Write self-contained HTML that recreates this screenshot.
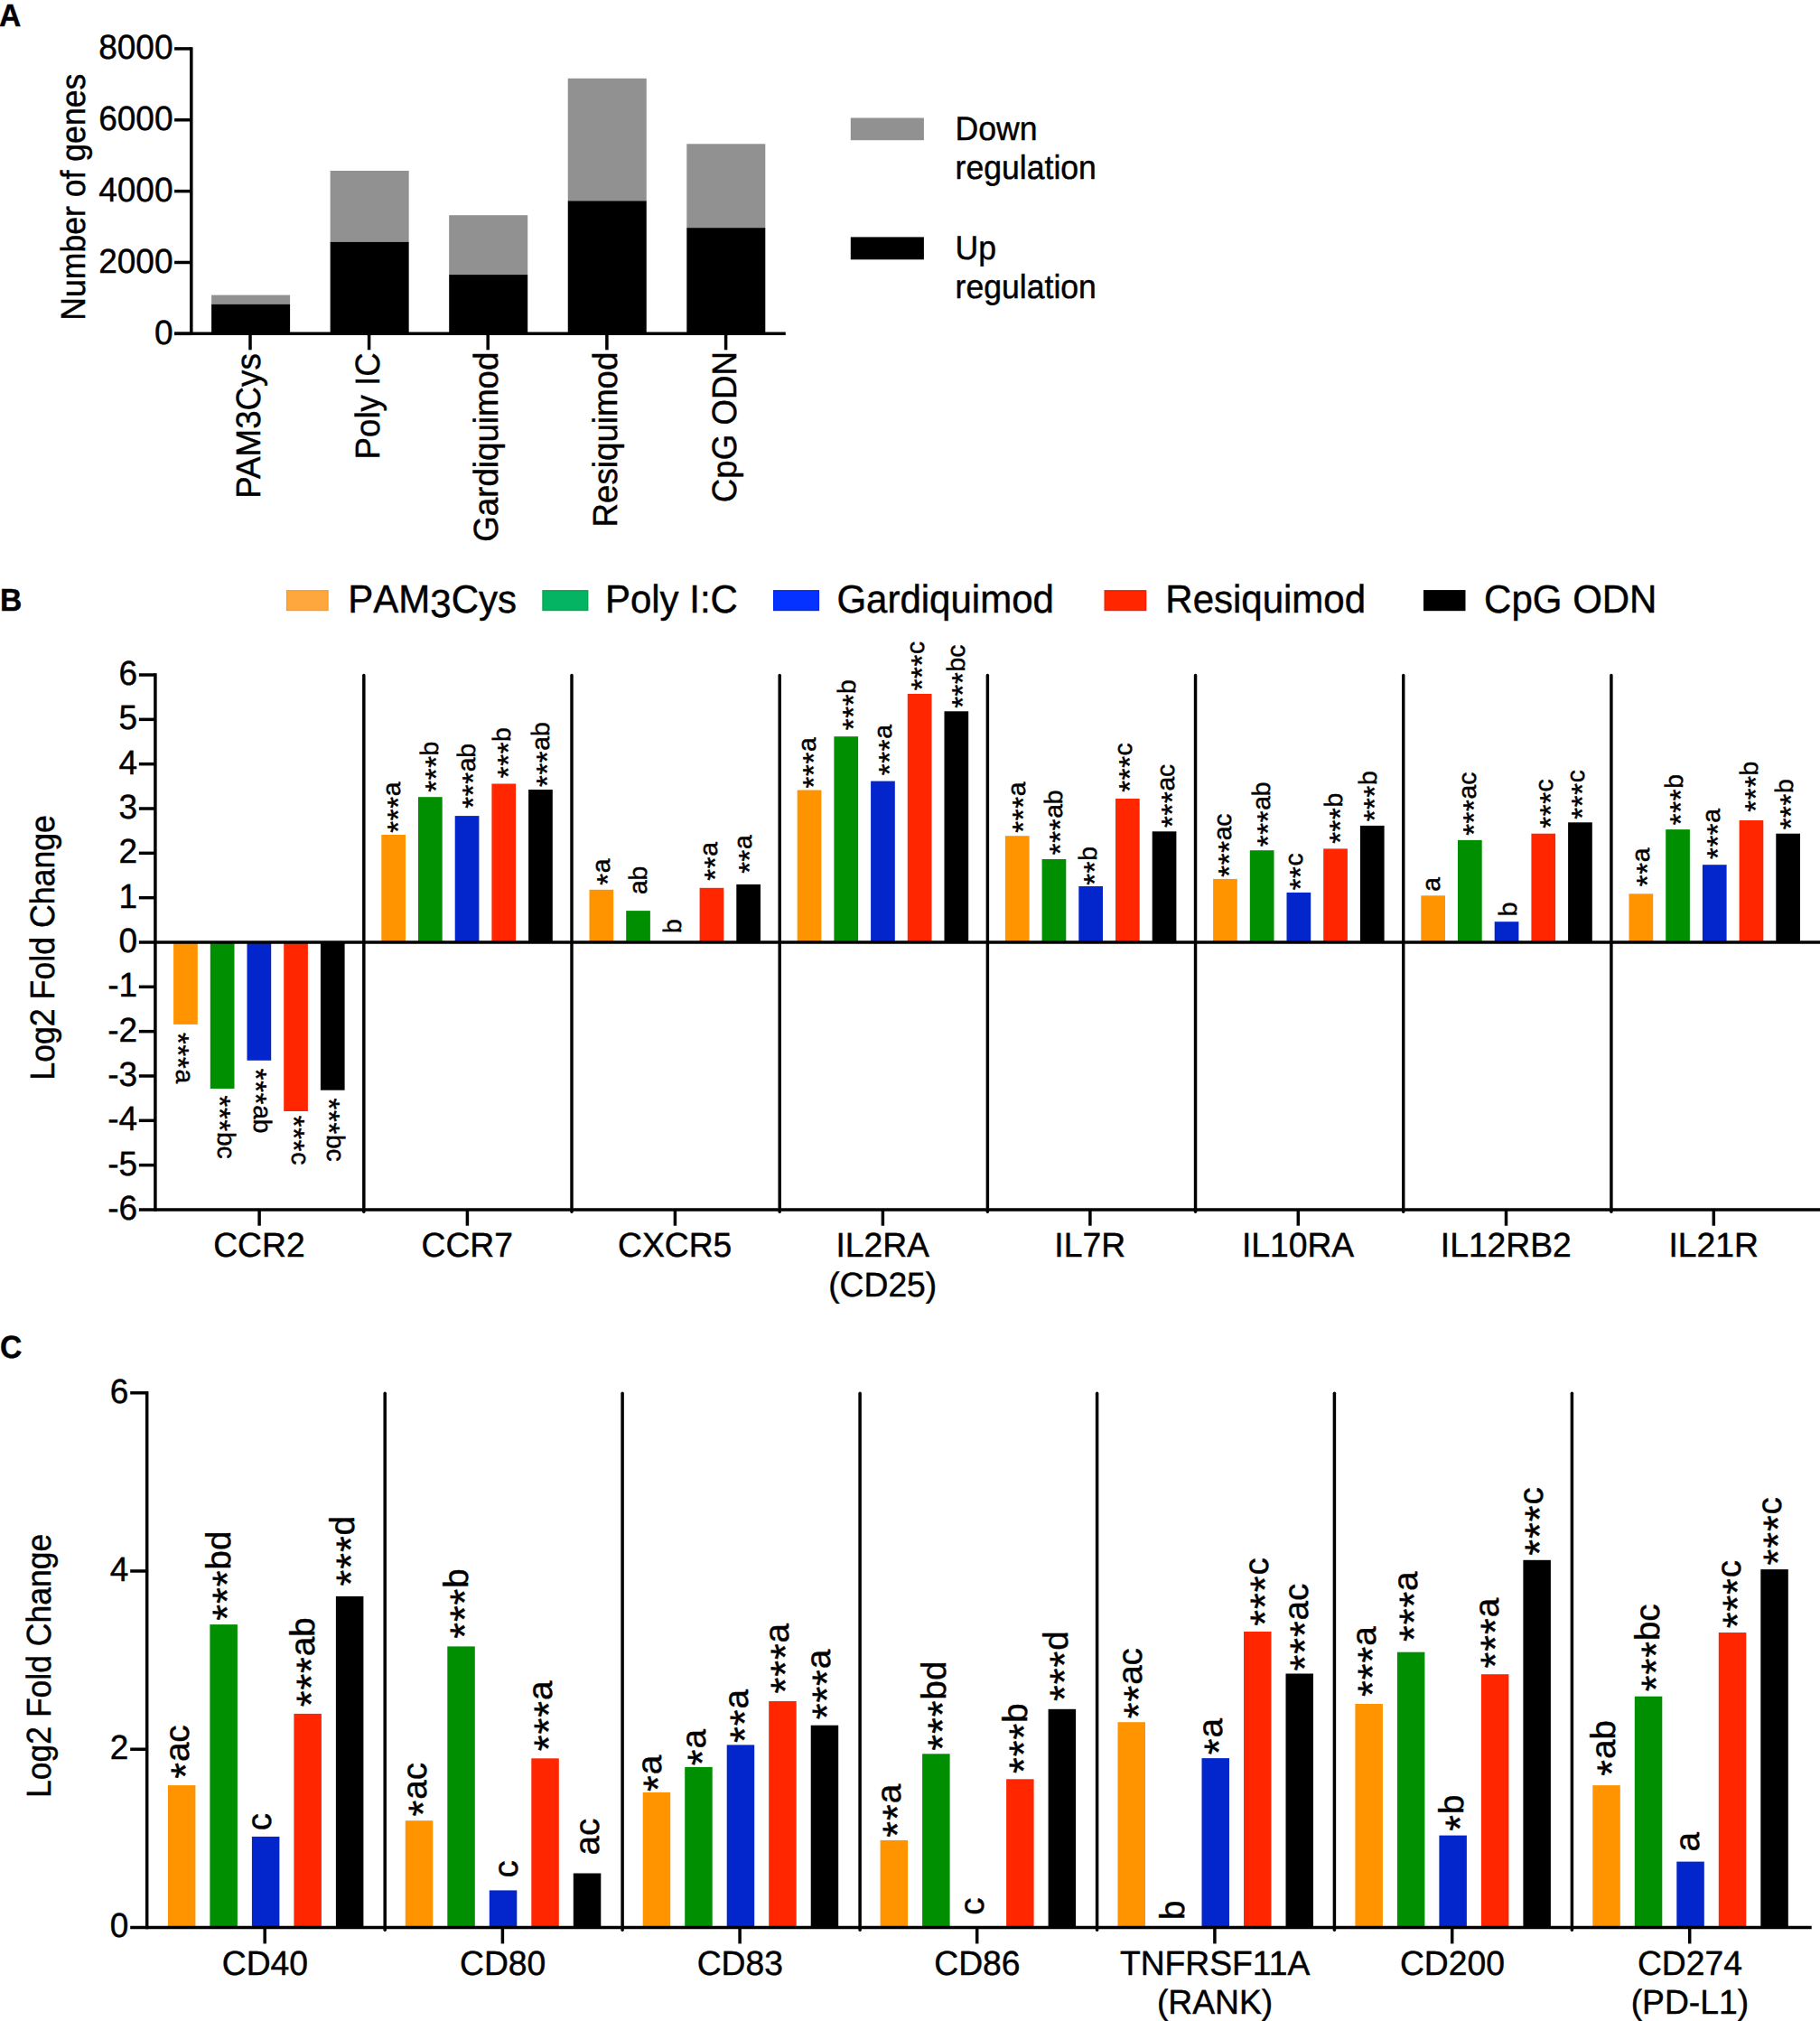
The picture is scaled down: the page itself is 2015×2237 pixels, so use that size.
<!DOCTYPE html>
<html lang="en">
<head>
<meta charset="utf-8">
<title>Figure: TLR agonist gene regulation</title>
<style>
html,body{margin:0;padding:0;background:#fff;}
body{width:2015px;height:2237px;overflow:hidden;}
svg{display:block;}
text{font-family:"Liberation Sans",Arial,Helvetica,sans-serif;fill:#000;stroke:#000;stroke-width:0.45px;}
</style>
</head>
<body>
<svg width="2015" height="2237" viewBox="0 0 2015 2237" text-rendering="geometricPrecision">
<rect x="0" y="0" width="2015" height="2237" fill="#fff"/>
<text transform="translate(-1 28.7) scale(0.9600 1)" font-size="35" font-weight="700">A</text>
<text transform="translate(0.1 675.9) scale(0.9600 1)" font-size="35" font-weight="700">B</text>
<text transform="translate(0 1503.2) scale(0.9600 1)" font-size="35" font-weight="700">C</text>
<rect x="234.1" y="326.6" width="87" height="10.8" fill="#919191"/>
<rect x="234.1" y="336.9" width="87" height="32.45" fill="#000000"/>
<rect x="365.65" y="189" width="87" height="79.4" fill="#919191"/>
<rect x="365.65" y="267.9" width="87" height="101.45" fill="#000000"/>
<rect x="497.2" y="238.2" width="87" height="66.4" fill="#919191"/>
<rect x="497.2" y="304.1" width="87" height="65.25" fill="#000000"/>
<rect x="628.75" y="86.8" width="87" height="136.2" fill="#919191"/>
<rect x="628.75" y="222.5" width="87" height="146.85" fill="#000000"/>
<rect x="760.3" y="159.3" width="87" height="93.4" fill="#919191"/>
<rect x="760.3" y="252.2" width="87" height="117.15" fill="#000000"/>
<line x1="211.8" y1="52.15" x2="211.8" y2="371.1" stroke="#000" stroke-width="3.5"/>
<line x1="193.1" y1="369.35" x2="869.8" y2="369.35" stroke="#000" stroke-width="3.5"/>
<line x1="193.1" y1="369.35" x2="211.8" y2="369.35" stroke="#000" stroke-width="3.5"/>
<text transform="translate(191.5 380.5) scale(0.9740 1)" font-size="38" text-anchor="end">0</text>
<line x1="193.1" y1="290.49" x2="211.8" y2="290.49" stroke="#000" stroke-width="3.5"/>
<text transform="translate(191.5 301.64) scale(0.9740 1)" font-size="38" text-anchor="end">2000</text>
<line x1="193.1" y1="211.63" x2="211.8" y2="211.63" stroke="#000" stroke-width="3.5"/>
<text transform="translate(191.5 222.78) scale(0.9740 1)" font-size="38" text-anchor="end">4000</text>
<line x1="193.1" y1="132.77" x2="211.8" y2="132.77" stroke="#000" stroke-width="3.5"/>
<text transform="translate(191.5 143.92) scale(0.9740 1)" font-size="38" text-anchor="end">6000</text>
<line x1="193.1" y1="53.91" x2="211.8" y2="53.91" stroke="#000" stroke-width="3.5"/>
<text transform="translate(191.5 65.06) scale(0.9740 1)" font-size="38" text-anchor="end">8000</text>
<line x1="277" y1="369.35" x2="277" y2="387.3" stroke="#000" stroke-width="3.5"/>
<text transform="translate(288.1 391.2) rotate(-90) scale(0.9660 1)" font-size="38" text-anchor="end">PAM3Cys</text>
<line x1="408.6" y1="369.35" x2="408.6" y2="387.3" stroke="#000" stroke-width="3.5"/>
<text transform="translate(419.7 390.2) rotate(-90) scale(0.9660 1)" font-size="38" text-anchor="end">Poly IC</text>
<line x1="540.2" y1="369.35" x2="540.2" y2="387.3" stroke="#000" stroke-width="3.5"/>
<text transform="translate(551.3 389.6) rotate(-90) scale(0.9660 1)" font-size="38" text-anchor="end">Gardiquimod</text>
<line x1="671.9" y1="369.35" x2="671.9" y2="387.3" stroke="#000" stroke-width="3.5"/>
<text transform="translate(683 389.6) rotate(-90) scale(0.9660 1)" font-size="38" text-anchor="end">Resiquimod</text>
<line x1="803.6" y1="369.35" x2="803.6" y2="387.3" stroke="#000" stroke-width="3.5"/>
<text transform="translate(814.7 389) rotate(-90) scale(0.9660 1)" font-size="38" text-anchor="end">CpG ODN</text>
<text transform="translate(94 354.8) rotate(-90) scale(0.9370 1)" font-size="38">Number of genes</text>
<rect x="941.8" y="130.5" width="81.1" height="24.7" fill="#919191"/>
<rect x="941.8" y="262.4" width="81.1" height="24.9" fill="#000000"/>
<text transform="translate(1057.6 154.7) scale(0.9570 1)" font-size="37.2">Down</text>
<text transform="translate(1057.6 198.2) scale(0.9570 1)" font-size="37.2">regulation</text>
<text transform="translate(1057.6 286.6) scale(0.9570 1)" font-size="37.2">Up</text>
<text transform="translate(1057.6 329.9) scale(0.9570 1)" font-size="37.2">regulation</text>
<rect x="317.6" y="653.8" width="45.4" height="21.7" fill="#FFA73F" stroke="#FF9A1F" stroke-width="1.4"/>
<rect x="601" y="653.8" width="49.7" height="21.7" fill="#04B463" stroke="#00A850" stroke-width="1.4"/>
<rect x="856.7" y="653.8" width="49.7" height="21.7" fill="#0532FF" stroke="#0428F0" stroke-width="1.4"/>
<rect x="1223.2" y="653.8" width="45.4" height="21.7" fill="#FF2600" stroke="#F52000" stroke-width="1.4"/>
<rect x="1576.7" y="653.8" width="45.1" height="21.7" fill="#000000" stroke="#000000" stroke-width="1.4"/>
<text transform="translate(385.3 678.3) scale(0.9655 1)" font-size="43.5" style="font-kerning:none">PAM<tspan dy="5.1">3</tspan><tspan dy="-5.1">Cys</tspan></text>
<text transform="translate(669.9 678.3) scale(0.9655 1)" font-size="43.5">Poly I:C</text>
<text transform="translate(926.4 678.3) scale(0.9655 1)" font-size="43.5">Gardiquimod</text>
<text transform="translate(1290.3 678.3) scale(0.9655 1)" font-size="43.5">Resiquimod</text>
<text transform="translate(1643.1 678.3) scale(0.9655 1)" font-size="43.5">CpG ODN</text>
<rect x="192.1" y="1043" width="26.7" height="90.9" fill="#FF9300"/>
<rect x="232.8" y="1043" width="26.7" height="162" fill="#008F00"/>
<rect x="273.5" y="1043" width="26.7" height="130.8" fill="#0325CC"/>
<rect x="314.2" y="1043" width="26.7" height="187" fill="#FF2600"/>
<rect x="354.9" y="1043" width="26.7" height="163.7" fill="#000000"/>
<rect x="422.3" y="924" width="26.7" height="119" fill="#FF9300"/>
<rect x="463" y="882.2" width="26.7" height="160.8" fill="#008F00"/>
<rect x="503.7" y="903.1" width="26.7" height="139.9" fill="#0325CC"/>
<rect x="544.4" y="867.5" width="26.7" height="175.5" fill="#FF2600"/>
<rect x="585.1" y="874" width="26.7" height="169" fill="#000000"/>
<rect x="652.5" y="984.8" width="26.7" height="58.2" fill="#FF9300"/>
<rect x="693.2" y="1008.1" width="26.7" height="34.9" fill="#008F00"/>
<rect x="774.6" y="982.8" width="26.7" height="60.2" fill="#FF2600"/>
<rect x="815.3" y="978.9" width="26.7" height="64.1" fill="#000000"/>
<rect x="882.7" y="874.5" width="26.7" height="168.5" fill="#FF9300"/>
<rect x="923.4" y="815.2" width="26.7" height="227.8" fill="#008F00"/>
<rect x="964.1" y="864.6" width="26.7" height="178.4" fill="#0325CC"/>
<rect x="1004.8" y="768" width="26.7" height="275" fill="#FF2600"/>
<rect x="1045.5" y="787.3" width="26.7" height="255.7" fill="#000000"/>
<rect x="1112.9" y="925.2" width="26.7" height="117.8" fill="#FF9300"/>
<rect x="1153.6" y="951" width="26.7" height="92" fill="#008F00"/>
<rect x="1194.3" y="981" width="26.7" height="62" fill="#0325CC"/>
<rect x="1235" y="884" width="26.7" height="159" fill="#FF2600"/>
<rect x="1275.7" y="920.3" width="26.7" height="122.7" fill="#000000"/>
<rect x="1343.1" y="972.9" width="26.7" height="70.1" fill="#FF9300"/>
<rect x="1383.8" y="941.2" width="26.7" height="101.8" fill="#008F00"/>
<rect x="1424.5" y="987.9" width="26.7" height="55.1" fill="#0325CC"/>
<rect x="1465.2" y="939.4" width="26.7" height="103.6" fill="#FF2600"/>
<rect x="1505.9" y="913.9" width="26.7" height="129.1" fill="#000000"/>
<rect x="1573.3" y="991.3" width="26.7" height="51.7" fill="#FF9300"/>
<rect x="1614" y="929.9" width="26.7" height="113.1" fill="#008F00"/>
<rect x="1654.7" y="1020.2" width="26.7" height="22.8" fill="#0325CC"/>
<rect x="1695.4" y="922.7" width="26.7" height="120.3" fill="#FF2600"/>
<rect x="1736.1" y="910.3" width="26.7" height="132.7" fill="#000000"/>
<rect x="1803.5" y="989.3" width="26.7" height="53.7" fill="#FF9300"/>
<rect x="1844.2" y="918.1" width="26.7" height="124.9" fill="#008F00"/>
<rect x="1884.9" y="957.2" width="26.7" height="85.8" fill="#0325CC"/>
<rect x="1925.6" y="908" width="26.7" height="135" fill="#FF2600"/>
<rect x="1966.3" y="922.7" width="26.7" height="120.3" fill="#000000"/>
<line x1="171.9" y1="745.15" x2="171.9" y2="1340.65" stroke="#000" stroke-width="3.5"/>
<text transform="translate(152.1 1349.83) scale(0.9740 1)" font-size="38" text-anchor="end">-6</text>
<line x1="153.85" y1="1289.65" x2="171.9" y2="1289.65" stroke="#000" stroke-width="3.5"/>
<text transform="translate(152.1 1300.5) scale(0.9740 1)" font-size="38" text-anchor="end">-5</text>
<line x1="153.85" y1="1240.32" x2="171.9" y2="1240.32" stroke="#000" stroke-width="3.5"/>
<text transform="translate(152.1 1251.17) scale(0.9740 1)" font-size="38" text-anchor="end">-4</text>
<line x1="153.85" y1="1190.99" x2="171.9" y2="1190.99" stroke="#000" stroke-width="3.5"/>
<text transform="translate(152.1 1201.84) scale(0.9740 1)" font-size="38" text-anchor="end">-3</text>
<line x1="153.85" y1="1141.66" x2="171.9" y2="1141.66" stroke="#000" stroke-width="3.5"/>
<text transform="translate(152.1 1152.51) scale(0.9740 1)" font-size="38" text-anchor="end">-2</text>
<line x1="153.85" y1="1092.33" x2="171.9" y2="1092.33" stroke="#000" stroke-width="3.5"/>
<text transform="translate(152.1 1103.18) scale(0.9740 1)" font-size="38" text-anchor="end">-1</text>
<text transform="translate(152.1 1053.85) scale(0.9740 1)" font-size="38" text-anchor="end">0</text>
<line x1="153.85" y1="993.67" x2="171.9" y2="993.67" stroke="#000" stroke-width="3.5"/>
<text transform="translate(152.1 1004.52) scale(0.9740 1)" font-size="38" text-anchor="end">1</text>
<line x1="153.85" y1="944.34" x2="171.9" y2="944.34" stroke="#000" stroke-width="3.5"/>
<text transform="translate(152.1 955.19) scale(0.9740 1)" font-size="38" text-anchor="end">2</text>
<line x1="153.85" y1="895.01" x2="171.9" y2="895.01" stroke="#000" stroke-width="3.5"/>
<text transform="translate(152.1 905.86) scale(0.9740 1)" font-size="38" text-anchor="end">3</text>
<line x1="153.85" y1="845.68" x2="171.9" y2="845.68" stroke="#000" stroke-width="3.5"/>
<text transform="translate(152.1 856.53) scale(0.9740 1)" font-size="38" text-anchor="end">4</text>
<line x1="153.85" y1="796.35" x2="171.9" y2="796.35" stroke="#000" stroke-width="3.5"/>
<text transform="translate(152.1 807.2) scale(0.9740 1)" font-size="38" text-anchor="end">5</text>
<line x1="153.85" y1="747.02" x2="171.9" y2="747.02" stroke="#000" stroke-width="3.5"/>
<text transform="translate(152.1 757.87) scale(0.9740 1)" font-size="38" text-anchor="end">6</text>
<line x1="153.85" y1="1043" x2="2015" y2="1043" stroke="#000" stroke-width="3.5"/>
<line x1="153.85" y1="1338.9" x2="2015" y2="1338.9" stroke="#000" stroke-width="3.5"/>
<line x1="402.83" y1="747.4" x2="402.83" y2="1341.2" stroke="#000" stroke-width="3.45" stroke-linecap="round"/>
<line x1="633.01" y1="747.4" x2="633.01" y2="1341.2" stroke="#000" stroke-width="3.45" stroke-linecap="round"/>
<line x1="863.19" y1="747.4" x2="863.19" y2="1341.2" stroke="#000" stroke-width="3.45" stroke-linecap="round"/>
<line x1="1093.37" y1="747.4" x2="1093.37" y2="1341.2" stroke="#000" stroke-width="3.45" stroke-linecap="round"/>
<line x1="1323.55" y1="747.4" x2="1323.55" y2="1341.2" stroke="#000" stroke-width="3.45" stroke-linecap="round"/>
<line x1="1553.73" y1="747.4" x2="1553.73" y2="1341.2" stroke="#000" stroke-width="3.45" stroke-linecap="round"/>
<line x1="1783.91" y1="747.4" x2="1783.91" y2="1341.2" stroke="#000" stroke-width="3.45" stroke-linecap="round"/>
<line x1="287.1" y1="1338.9" x2="287.1" y2="1356.7" stroke="#000" stroke-width="3.5"/>
<text transform="translate(286.9 1391.4) scale(0.9800 1)" font-size="38" text-anchor="middle">CCR2</text>
<line x1="517.4" y1="1338.9" x2="517.4" y2="1356.7" stroke="#000" stroke-width="3.5"/>
<text transform="translate(517.2 1391.4) scale(0.9800 1)" font-size="38" text-anchor="middle">CCR7</text>
<line x1="747.4" y1="1338.9" x2="747.4" y2="1356.7" stroke="#000" stroke-width="3.5"/>
<text transform="translate(747.2 1391.4) scale(0.9800 1)" font-size="38" text-anchor="middle">CXCR5</text>
<line x1="977.4" y1="1338.9" x2="977.4" y2="1356.7" stroke="#000" stroke-width="3.5"/>
<text transform="translate(977.2 1391.4) scale(0.9800 1)" font-size="38" text-anchor="middle">IL2RA</text>
<text transform="translate(977.2 1434.6) scale(0.9800 1)" font-size="38" text-anchor="middle">(CD25)</text>
<line x1="1206.9" y1="1338.9" x2="1206.9" y2="1356.7" stroke="#000" stroke-width="3.5"/>
<text transform="translate(1206.7 1391.4) scale(0.9800 1)" font-size="38" text-anchor="middle">IL7R</text>
<line x1="1437.3" y1="1338.9" x2="1437.3" y2="1356.7" stroke="#000" stroke-width="3.5"/>
<text transform="translate(1437.1 1391.4) scale(0.9800 1)" font-size="38" text-anchor="middle">IL10RA</text>
<line x1="1667.5" y1="1338.9" x2="1667.5" y2="1356.7" stroke="#000" stroke-width="3.5"/>
<text transform="translate(1667.3 1391.4) scale(0.9800 1)" font-size="38" text-anchor="middle">IL12RB2</text>
<line x1="1897.3" y1="1338.9" x2="1897.3" y2="1356.7" stroke="#000" stroke-width="3.5"/>
<text transform="translate(1897.1 1391.4) scale(0.9800 1)" font-size="38" text-anchor="middle">IL21R</text>
<text transform="translate(59.7 1195.7) rotate(-90) scale(0.9390 1)" font-size="38">Log2 Fold Change</text>
<text transform="translate(195.1 1143.07) rotate(90)" font-size="28.2"><tspan font-size="33" dy="9" letter-spacing="0.6">***</tspan><tspan dy="-9">a</tspan></text>
<text transform="translate(241.4 1212.57) rotate(90)" font-size="28.2"><tspan font-size="33" dy="9" letter-spacing="0.6">***</tspan><tspan dy="-9">bc</tspan></text>
<text transform="translate(281.4 1182.87) rotate(90)" font-size="28.2"><tspan font-size="33" dy="9" letter-spacing="0.6">***</tspan><tspan dy="-9">ab</tspan></text>
<text transform="translate(322.6 1234.87) rotate(90)" font-size="28.2"><tspan font-size="33" dy="9" letter-spacing="0.6">***</tspan><tspan dy="-9">c</tspan></text>
<text transform="translate(361.9 1215.57) rotate(90)" font-size="28.2"><tspan font-size="33" dy="9" letter-spacing="0.6">***</tspan><tspan dy="-9">bc</tspan></text>
<text transform="translate(443.3 921.63) rotate(-90)" font-size="28.2"><tspan font-size="33" dy="9" letter-spacing="0.6">***</tspan><tspan dy="-9">a</tspan></text>
<text transform="translate(485.2 876.73) rotate(-90)" font-size="28.2"><tspan font-size="33" dy="9" letter-spacing="0.6">***</tspan><tspan dy="-9">b</tspan></text>
<text transform="translate(525.6 894.63) rotate(-90)" font-size="28.2"><tspan font-size="33" dy="9" letter-spacing="0.6">***</tspan><tspan dy="-9">ab</tspan></text>
<text transform="translate(564.8 861.23) rotate(-90)" font-size="28.2"><tspan font-size="33" dy="9" letter-spacing="0.6">***</tspan><tspan dy="-9">b</tspan></text>
<text transform="translate(607.5 871.03) rotate(-90)" font-size="28.2"><tspan font-size="33" dy="9" letter-spacing="0.6">***</tspan><tspan dy="-9">ab</tspan></text>
<text transform="translate(674.7 979.63) rotate(-90)" font-size="28.2"><tspan font-size="33" dy="9" letter-spacing="0.6">*</tspan><tspan dy="-9">a</tspan></text>
<text transform="translate(716 990.08) rotate(-90)" font-size="28.2">ab</text>
<text transform="translate(753.6 1033.1) rotate(-90)" font-size="28.2">b</text>
<text transform="translate(794.4 974.73) rotate(-90)" font-size="28.2"><tspan font-size="33" dy="9" letter-spacing="0.6">**</tspan><tspan dy="-9">a</tspan></text>
<text transform="translate(832.3 966.83) rotate(-90)" font-size="28.2"><tspan font-size="33" dy="9" letter-spacing="0.6">**</tspan><tspan dy="-9">a</tspan></text>
<text transform="translate(903.4 872.43) rotate(-90)" font-size="28.2"><tspan font-size="33" dy="9" letter-spacing="0.6">***</tspan><tspan dy="-9">a</tspan></text>
<text transform="translate(947.1 808.23) rotate(-90)" font-size="28.2"><tspan font-size="33" dy="9" letter-spacing="0.6">***</tspan><tspan dy="-9">b</tspan></text>
<text transform="translate(987.1 858.13) rotate(-90)" font-size="28.2"><tspan font-size="33" dy="9" letter-spacing="0.6">***</tspan><tspan dy="-9">a</tspan></text>
<text transform="translate(1023.1 764.33) rotate(-90)" font-size="28.2"><tspan font-size="33" dy="9" letter-spacing="0.6">***</tspan><tspan dy="-9">c</tspan></text>
<text transform="translate(1068.2 783.83) rotate(-90)" font-size="28.2"><tspan font-size="33" dy="9" letter-spacing="0.6">***</tspan><tspan dy="-9">bc</tspan></text>
<text transform="translate(1135 921.63) rotate(-90)" font-size="28.2"><tspan font-size="33" dy="9" letter-spacing="0.6">***</tspan><tspan dy="-9">a</tspan></text>
<text transform="translate(1176.4 946.13) rotate(-90)" font-size="28.2"><tspan font-size="33" dy="9" letter-spacing="0.6">***</tspan><tspan dy="-9">ab</tspan></text>
<text transform="translate(1213.9 979.63) rotate(-90)" font-size="28.2"><tspan font-size="33" dy="9" letter-spacing="0.6">**</tspan><tspan dy="-9">b</tspan></text>
<text transform="translate(1253.1 876.73) rotate(-90)" font-size="28.2"><tspan font-size="33" dy="9" letter-spacing="0.6">***</tspan><tspan dy="-9">c</tspan></text>
<text transform="translate(1299.7 915.93) rotate(-90)" font-size="28.2"><tspan font-size="33" dy="9" letter-spacing="0.6">***</tspan><tspan dy="-9">ac</tspan></text>
<text transform="translate(1363.1 970.63) rotate(-90)" font-size="28.2"><tspan font-size="33" dy="9" letter-spacing="0.6">***</tspan><tspan dy="-9">ac</tspan></text>
<text transform="translate(1406.4 937.13) rotate(-90)" font-size="28.2"><tspan font-size="33" dy="9" letter-spacing="0.6">***</tspan><tspan dy="-9">ab</tspan></text>
<text transform="translate(1442 985.33) rotate(-90)" font-size="28.2"><tspan font-size="33" dy="9" letter-spacing="0.6">**</tspan><tspan dy="-9">c</tspan></text>
<text transform="translate(1485.6 933.83) rotate(-90)" font-size="28.2"><tspan font-size="33" dy="9" letter-spacing="0.6">***</tspan><tspan dy="-9">b</tspan></text>
<text transform="translate(1523.9 909.33) rotate(-90)" font-size="28.2"><tspan font-size="33" dy="9" letter-spacing="0.6">***</tspan><tspan dy="-9">b</tspan></text>
<text transform="translate(1593.9 986.78) rotate(-90)" font-size="28.2">a</text>
<text transform="translate(1633.9 924.83) rotate(-90)" font-size="28.2"><tspan font-size="33" dy="9" letter-spacing="0.6">***</tspan><tspan dy="-9">ac</tspan></text>
<text transform="translate(1678.8 1014.3) rotate(-90)" font-size="28.2">b</text>
<text transform="translate(1718.8 916.73) rotate(-90)" font-size="28.2"><tspan font-size="33" dy="9" letter-spacing="0.6">***</tspan><tspan dy="-9">c</tspan></text>
<text transform="translate(1753.6 906.63) rotate(-90)" font-size="28.2"><tspan font-size="33" dy="9" letter-spacing="0.6">***</tspan><tspan dy="-9">c</tspan></text>
<text transform="translate(1825.6 981.23) rotate(-90)" font-size="28.2"><tspan font-size="33" dy="9" letter-spacing="0.6">**</tspan><tspan dy="-9">a</tspan></text>
<text transform="translate(1862.8 913.13) rotate(-90)" font-size="28.2"><tspan font-size="33" dy="9" letter-spacing="0.6">***</tspan><tspan dy="-9">b</tspan></text>
<text transform="translate(1903.9 951.03) rotate(-90)" font-size="28.2"><tspan font-size="33" dy="9" letter-spacing="0.6">***</tspan><tspan dy="-9">a</tspan></text>
<text transform="translate(1946.4 898.73) rotate(-90)" font-size="28.2"><tspan font-size="33" dy="9" letter-spacing="0.6">***</tspan><tspan dy="-9">b</tspan></text>
<text transform="translate(1984.5 918.33) rotate(-90)" font-size="28.2"><tspan font-size="33" dy="9" letter-spacing="0.6">***</tspan><tspan dy="-9">b</tspan></text>
<rect x="185.9" y="1976.1" width="30.5" height="157.35" fill="#FF9300"/>
<rect x="232.4" y="1798.1" width="30.5" height="335.35" fill="#008F00"/>
<rect x="278.9" y="2032.9" width="30.5" height="100.55" fill="#0325CC"/>
<rect x="325.4" y="1896.9" width="30.5" height="236.55" fill="#FF2600"/>
<rect x="371.9" y="1766.9" width="30.5" height="366.55" fill="#000000"/>
<rect x="448.8" y="2015.2" width="30.5" height="118.25" fill="#FF9300"/>
<rect x="495.3" y="1822.4" width="30.5" height="311.05" fill="#008F00"/>
<rect x="541.8" y="2092.4" width="30.5" height="41.05" fill="#0325CC"/>
<rect x="588.3" y="1946.3" width="30.5" height="187.15" fill="#FF2600"/>
<rect x="634.8" y="2073.5" width="30.5" height="59.95" fill="#000000"/>
<rect x="711.7" y="1983.9" width="30.5" height="149.55" fill="#FF9300"/>
<rect x="758.2" y="1955.9" width="30.5" height="177.55" fill="#008F00"/>
<rect x="804.7" y="1931.4" width="30.5" height="202.05" fill="#0325CC"/>
<rect x="851.2" y="1883" width="30.5" height="250.45" fill="#FF2600"/>
<rect x="897.7" y="1909.7" width="30.5" height="223.75" fill="#000000"/>
<rect x="974.6" y="2036.9" width="30.5" height="96.55" fill="#FF9300"/>
<rect x="1021.1" y="1941.3" width="30.5" height="192.15" fill="#008F00"/>
<rect x="1114.1" y="1969.3" width="30.5" height="164.15" fill="#FF2600"/>
<rect x="1160.6" y="1891.8" width="30.5" height="241.65" fill="#000000"/>
<rect x="1237.5" y="1906.2" width="30.5" height="227.25" fill="#FF9300"/>
<rect x="1330.5" y="1946.1" width="30.5" height="187.35" fill="#0325CC"/>
<rect x="1377" y="1806" width="30.5" height="327.45" fill="#FF2600"/>
<rect x="1423.5" y="1852.5" width="30.5" height="280.95" fill="#000000"/>
<rect x="1500.4" y="1886" width="30.5" height="247.45" fill="#FF9300"/>
<rect x="1546.9" y="1828.7" width="30.5" height="304.75" fill="#008F00"/>
<rect x="1593.4" y="2031.6" width="30.5" height="101.85" fill="#0325CC"/>
<rect x="1639.9" y="1853.2" width="30.5" height="280.25" fill="#FF2600"/>
<rect x="1686.4" y="1726.8" width="30.5" height="406.65" fill="#000000"/>
<rect x="1763.3" y="1976.1" width="30.5" height="157.35" fill="#FF9300"/>
<rect x="1809.8" y="1877.7" width="30.5" height="255.75" fill="#008F00"/>
<rect x="1856.3" y="2060.6" width="30.5" height="72.85" fill="#0325CC"/>
<rect x="1902.8" y="1807" width="30.5" height="326.45" fill="#FF2600"/>
<rect x="1949.3" y="1737.1" width="30.5" height="396.35" fill="#000000"/>
<line x1="162.7" y1="1540" x2="162.7" y2="2135.2" stroke="#000" stroke-width="3.5"/>
<text transform="translate(142.3 2144.45) scale(0.9740 1)" font-size="38" text-anchor="end">0</text>
<line x1="144.2" y1="1936.21" x2="162.7" y2="1936.21" stroke="#000" stroke-width="3.5"/>
<text transform="translate(142.3 1947.21) scale(0.9740 1)" font-size="38" text-anchor="end">2</text>
<line x1="144.2" y1="1738.97" x2="162.7" y2="1738.97" stroke="#000" stroke-width="3.5"/>
<text transform="translate(142.3 1749.97) scale(0.9740 1)" font-size="38" text-anchor="end">4</text>
<line x1="144.2" y1="1541.73" x2="162.7" y2="1541.73" stroke="#000" stroke-width="3.5"/>
<text transform="translate(142.3 1552.73) scale(0.9740 1)" font-size="38" text-anchor="end">6</text>
<line x1="144.2" y1="2133.45" x2="2005.7" y2="2133.45" stroke="#000" stroke-width="3.5"/>
<line x1="426.2" y1="1542.3" x2="426.2" y2="2136.3" stroke="#000" stroke-width="3.5" stroke-linecap="round"/>
<line x1="689.1" y1="1542.3" x2="689.1" y2="2136.3" stroke="#000" stroke-width="3.5" stroke-linecap="round"/>
<line x1="952.1" y1="1542.3" x2="952.1" y2="2136.3" stroke="#000" stroke-width="3.5" stroke-linecap="round"/>
<line x1="1214.6" y1="1542.3" x2="1214.6" y2="2136.3" stroke="#000" stroke-width="3.5" stroke-linecap="round"/>
<line x1="1477.4" y1="1542.3" x2="1477.4" y2="2136.3" stroke="#000" stroke-width="3.5" stroke-linecap="round"/>
<line x1="1740.4" y1="1542.3" x2="1740.4" y2="2136.3" stroke="#000" stroke-width="3.5" stroke-linecap="round"/>
<line x1="293.2" y1="2133.45" x2="293.2" y2="2151.4" stroke="#000" stroke-width="3.5"/>
<text transform="translate(293.4 2186) scale(0.9800 1)" font-size="38" text-anchor="middle">CD40</text>
<line x1="556.4" y1="2133.45" x2="556.4" y2="2151.4" stroke="#000" stroke-width="3.5"/>
<text transform="translate(556.6 2186) scale(0.9800 1)" font-size="38" text-anchor="middle">CD80</text>
<line x1="819.1" y1="2133.45" x2="819.1" y2="2151.4" stroke="#000" stroke-width="3.5"/>
<text transform="translate(819.3 2186) scale(0.9800 1)" font-size="38" text-anchor="middle">CD83</text>
<line x1="1081.7" y1="2133.45" x2="1081.7" y2="2151.4" stroke="#000" stroke-width="3.5"/>
<text transform="translate(1081.9 2186) scale(0.9800 1)" font-size="38" text-anchor="middle">CD86</text>
<line x1="1344.9" y1="2133.45" x2="1344.9" y2="2151.4" stroke="#000" stroke-width="3.5"/>
<text transform="translate(1345.1 2186) scale(0.9800 1)" font-size="38" text-anchor="middle">TNFRSF11A</text>
<text transform="translate(1345.1 2229) scale(0.9800 1)" font-size="38" text-anchor="middle">(RANK)</text>
<line x1="1607.7" y1="2133.45" x2="1607.7" y2="2151.4" stroke="#000" stroke-width="3.5"/>
<text transform="translate(1607.9 2186) scale(0.9800 1)" font-size="38" text-anchor="middle">CD200</text>
<line x1="1870.7" y1="2133.45" x2="1870.7" y2="2151.4" stroke="#000" stroke-width="3.5"/>
<text transform="translate(1870.9 2186) scale(0.9800 1)" font-size="38" text-anchor="middle">CD274</text>
<text transform="translate(1870.9 2229) scale(0.9800 1)" font-size="38" text-anchor="middle">(PD-L1)</text>
<text transform="translate(55.5 1989.9) rotate(-90) scale(0.9340 1)" font-size="38">Log2 Fold Change</text>
<text transform="translate(208.6 1968.83) rotate(-90)" font-size="38.5"><tspan font-size="45.5" dy="12" letter-spacing="1">*</tspan><tspan dy="-12">ac</tspan></text>
<text transform="translate(255.2 1793.63) rotate(-90)" font-size="38.5"><tspan font-size="45.5" dy="12" letter-spacing="1">***</tspan><tspan dy="-12">bd</tspan></text>
<text transform="translate(299.5 2026.22) rotate(-90)" font-size="38.5">c</text>
<text transform="translate(348.4 1889.33) rotate(-90)" font-size="38.5"><tspan font-size="45.5" dy="12" letter-spacing="1">***</tspan><tspan dy="-12">ab</tspan></text>
<text transform="translate(392.3 1755.53) rotate(-90)" font-size="38.5"><tspan font-size="45.5" dy="12" letter-spacing="1">***</tspan><tspan dy="-12">d</tspan></text>
<text transform="translate(471.9 2010.43) rotate(-90)" font-size="38.5"><tspan font-size="45.5" dy="12" letter-spacing="1">*</tspan><tspan dy="-12">ac</tspan></text>
<text transform="translate(518 1813.83) rotate(-90)" font-size="38.5"><tspan font-size="45.5" dy="12" letter-spacing="1">***</tspan><tspan dy="-12">b</tspan></text>
<text transform="translate(572.8 2078.42) rotate(-90)" font-size="38.5">c</text>
<text transform="translate(611.4 1938.13) rotate(-90)" font-size="38.5"><tspan font-size="45.5" dy="12" letter-spacing="1">***</tspan><tspan dy="-12">a</tspan></text>
<text transform="translate(662.9 2053.52) rotate(-90)" font-size="38.5">ac</text>
<text transform="translate(732 1983.03) rotate(-90)" font-size="38.5"><tspan font-size="45.5" dy="12" letter-spacing="1">*</tspan><tspan dy="-12">a</tspan></text>
<text transform="translate(780.5 1954.23) rotate(-90)" font-size="38.5"><tspan font-size="45.5" dy="12" letter-spacing="1">*</tspan><tspan dy="-12">a</tspan></text>
<text transform="translate(827.6 1929.03) rotate(-90)" font-size="38.5"><tspan font-size="45.5" dy="12" letter-spacing="1">**</tspan><tspan dy="-12">a</tspan></text>
<text transform="translate(872.9 1874.53) rotate(-90)" font-size="38.5"><tspan font-size="45.5" dy="12" letter-spacing="1">***</tspan><tspan dy="-12">a</tspan></text>
<text transform="translate(918.8 1903.33) rotate(-90)" font-size="38.5"><tspan font-size="45.5" dy="12" letter-spacing="1">***</tspan><tspan dy="-12">a</tspan></text>
<text transform="translate(997.3 2033.73) rotate(-90)" font-size="38.5"><tspan font-size="45.5" dy="12" letter-spacing="1">**</tspan><tspan dy="-12">a</tspan></text>
<text transform="translate(1046.6 1937.63) rotate(-90)" font-size="38.5"><tspan font-size="45.5" dy="12" letter-spacing="1">***</tspan><tspan dy="-12">bd</tspan></text>
<text transform="translate(1089 2119.82) rotate(-90)" font-size="38.5">c</text>
<text transform="translate(1137.4 1962.93) rotate(-90)" font-size="38.5"><tspan font-size="45.5" dy="12" letter-spacing="1">***</tspan><tspan dy="-12">b</tspan></text>
<text transform="translate(1182.3 1882.93) rotate(-90)" font-size="38.5"><tspan font-size="45.5" dy="12" letter-spacing="1">***</tspan><tspan dy="-12">d</tspan></text>
<text transform="translate(1263.9 1902.23) rotate(-90)" font-size="38.5"><tspan font-size="45.5" dy="12" letter-spacing="1">**</tspan><tspan dy="-12">ac</tspan></text>
<text transform="translate(1310.6 2124.96) rotate(-90)" font-size="38.5">b</text>
<text transform="translate(1353 1942.13) rotate(-90)" font-size="38.5"><tspan font-size="45.5" dy="12" letter-spacing="1">*</tspan><tspan dy="-12">a</tspan></text>
<text transform="translate(1404 1799.63) rotate(-90)" font-size="38.5"><tspan font-size="45.5" dy="12" letter-spacing="1">***</tspan><tspan dy="-12">c</tspan></text>
<text transform="translate(1447.9 1849.53) rotate(-90)" font-size="38.5"><tspan font-size="45.5" dy="12" letter-spacing="1">***</tspan><tspan dy="-12">ac</tspan></text>
<text transform="translate(1523.2 1877.93) rotate(-90)" font-size="38.5"><tspan font-size="45.5" dy="12" letter-spacing="1">***</tspan><tspan dy="-12">a</tspan></text>
<text transform="translate(1569.4 1817.03) rotate(-90)" font-size="38.5"><tspan font-size="45.5" dy="12" letter-spacing="1">***</tspan><tspan dy="-12">a</tspan></text>
<text transform="translate(1619.6 2026.83) rotate(-90)" font-size="38.5"><tspan font-size="45.5" dy="12" letter-spacing="1">*</tspan><tspan dy="-12">b</tspan></text>
<text transform="translate(1659.4 1846.43) rotate(-90)" font-size="38.5"><tspan font-size="45.5" dy="12" letter-spacing="1">***</tspan><tspan dy="-12">a</tspan></text>
<text transform="translate(1707.9 1721.63) rotate(-90)" font-size="38.5"><tspan font-size="45.5" dy="12" letter-spacing="1">***</tspan><tspan dy="-12">c</tspan></text>
<text transform="translate(1787.6 1965.73) rotate(-90)" font-size="38.5"><tspan font-size="45.5" dy="12" letter-spacing="1">*</tspan><tspan dy="-12">ab</tspan></text>
<text transform="translate(1836.8 1872.23) rotate(-90)" font-size="38.5"><tspan font-size="45.5" dy="12" letter-spacing="1">***</tspan><tspan dy="-12">bc</tspan></text>
<text transform="translate(1880.6 2049.62) rotate(-90)" font-size="38.5">a</text>
<text transform="translate(1927 1802.33) rotate(-90)" font-size="38.5"><tspan font-size="45.5" dy="12" letter-spacing="1">***</tspan><tspan dy="-12">c</tspan></text>
<text transform="translate(1972.4 1732.53) rotate(-90)" font-size="38.5"><tspan font-size="45.5" dy="12" letter-spacing="1">***</tspan><tspan dy="-12">c</tspan></text>
</svg>
</body>
</html>
